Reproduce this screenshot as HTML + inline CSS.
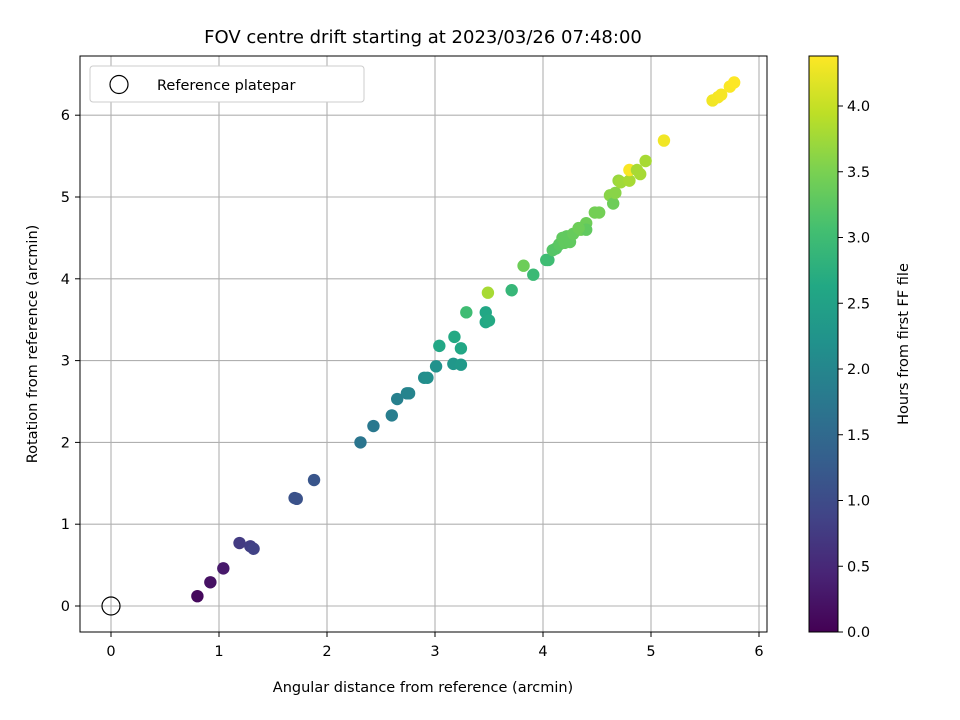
<!DOCTYPE html>
<html><head><meta charset="utf-8"><style>
body{margin:0;background:#fff;}
svg{display:block;font-family:"DejaVu Sans","Liberation Sans",sans-serif;}
</style></head><body>
<svg id="chart" width="960" height="720" viewBox="0 0 960 720">
<defs>
<linearGradient id="vir" x1="0" y1="1" x2="0" y2="0">
<stop offset="0" stop-color="#440154"/><stop offset="0.1" stop-color="#482475"/><stop offset="0.2" stop-color="#414487"/><stop offset="0.3" stop-color="#355f8d"/><stop offset="0.4" stop-color="#2a788e"/><stop offset="0.5" stop-color="#21918c"/><stop offset="0.6" stop-color="#22a884"/><stop offset="0.7" stop-color="#44bf70"/><stop offset="0.8" stop-color="#7ad151"/><stop offset="0.9" stop-color="#bddf26"/><stop offset="1" stop-color="#fde725"/>
</linearGradient>
</defs>
<rect x="0" y="0" width="960" height="720" fill="#fff"/>
<text x="423" y="43" font-size="18" text-anchor="middle">FOV centre drift starting at 2023/03/26 07:48:00</text>
<g id="grid"></g>
<g id="points"></g>
<rect x="80" y="56" width="687" height="576" fill="none" stroke="#000" stroke-width="1"/>
<g id="ticks" font-size="14.5"></g>
<text x="423" y="692" font-size="14.5" text-anchor="middle">Angular distance from reference (arcmin)</text>
<text transform="translate(37,344) rotate(-90)" font-size="14.5" text-anchor="middle">Rotation from reference (arcmin)</text>
<g>
<rect x="90" y="66" width="274" height="36" rx="3" fill="#fff" stroke="#ccc"/>
<circle cx="119" cy="84.5" r="9" fill="none" stroke="#000" stroke-width="1.2"/>
<text x="157" y="90" font-size="14.5">Reference platepar</text>
</g>
<rect x="809" y="56" width="29" height="576" fill="url(#vir)" stroke="#000" stroke-width="1"/>
<g id="cbticks" font-size="14.5"></g>
<text transform="translate(908,344) rotate(-90)" font-size="14.5" text-anchor="middle">Hours from first FF file</text>
</svg>
<script>
const xs=[0.80,0.92,1.04,1.19,1.29,1.32,1.70,1.72,1.88,2.31,2.43,2.60,2.65,2.74,2.76,2.90,2.93,3.01,3.04,3.18,3.17,3.24,3.24,3.29,3.47,3.47,3.50,3.49,3.71,3.82,3.91,4.03,4.05,4.09,4.12,4.15,4.18,4.20,4.22,4.25,4.28,4.35,4.40,4.40,4.33,4.48,4.52,4.62,4.65,4.67,4.70,4.72,4.80,4.80,4.87,4.90,4.95,5.12,5.57,5.62,5.65,5.73,5.77];
const ys=[0.12,0.29,0.46,0.77,0.73,0.70,1.32,1.31,1.54,2.00,2.20,2.33,2.53,2.60,2.60,2.79,2.79,2.93,3.18,3.29,2.96,2.95,3.15,3.59,3.47,3.59,3.49,3.83,3.86,4.16,4.05,4.23,4.23,4.35,4.37,4.42,4.50,4.44,4.52,4.45,4.55,4.60,4.68,4.60,4.62,4.81,4.81,5.02,4.92,5.05,5.20,5.18,5.20,5.33,5.33,5.28,5.44,5.69,6.18,6.22,6.25,6.35,6.40];
const hours=[0.1,0.2,0.3,0.75,0.8,0.85,1.1,1.1,1.15,1.7,1.75,1.85,1.9,1.95,1.97,2.1,2.15,2.2,2.6,2.65,2.3,2.35,2.6,3.0,2.6,2.6,2.65,3.8,2.9,3.4,2.95,3.0,3.0,3.2,3.2,3.25,3.3,3.3,3.3,3.3,3.35,3.4,3.4,3.3,3.4,3.45,3.45,3.6,3.4,3.6,3.7,3.75,3.8,4.35,3.8,3.8,3.8,4.3,4.3,4.32,4.33,4.36,4.38];
const xTicks=[0,1,2,3,4,5,6];
const yTicks=[0,1,2,3,4,5,6];
const cTicks=[0.0,0.5,1.0,1.5,2.0,2.5,3.0,3.5,4.0];
const NS="http://www.w3.org/2000/svg";
const X=v=>111+108*v, Y=v=>606-81.8*v, C=v=>632-131.5*v, CMAX=4.38;
const vir=["#440154","#482475","#414487","#355f8d","#2a788e","#21918c","#22a884","#44bf70","#7ad151","#bddf26","#fde725"];
function hex(h){return [1,3,5].map(i=>parseInt(h.substr(i,2),16));}
function cmap(t){t=Math.max(0,Math.min(1,t))*10;const i=Math.min(9,Math.floor(t)),f=t-i;const a=hex(vir[i]),b=hex(vir[i+1]);return "rgb("+a.map((v,k)=>Math.round(v+(b[k]-v)*f)).join(",")+")";}
function mk(tag,attrs,parent){const e=document.createElementNS(NS,tag);for(const k in attrs)e.setAttribute(k,attrs[k]);parent.appendChild(e);return e;}
const grid=document.getElementById('grid'),ticks=document.getElementById('ticks'),pts=document.getElementById('points'),cb=document.getElementById('cbticks');
xTicks.forEach(v=>{
 const l=mk('line',{x1:X(v),x2:X(v),y1:56,y2:632,stroke:'#b0b0b0','stroke-width':1.1},grid);
 
 
 mk('line',{x1:X(v),x2:X(v),y1:632,y2:637,stroke:'#000'},ticks);
 const t=mk('text',{x:X(v),y:656,'text-anchor':'middle'},ticks);t.textContent=v;
 
 
});
yTicks.forEach(v=>{
 const l=mk('line',{x1:80,x2:767,y1:Y(v),y2:Y(v),stroke:'#b0b0b0','stroke-width':1.1},grid);
 
 
 mk('line',{x1:75,x2:80,y1:Y(v),y2:Y(v),stroke:'#000'},ticks);
 const t=mk('text',{x:70,y:Y(v)+5,'text-anchor':'end'},ticks);t.textContent=v;
 
 
});
xs.forEach((x,i)=>{
 const c=mk('circle',{cx:X(x),cy:Y(ys[i]),r:6.2,fill:cmap(hours[i]/CMAX)},pts);
 
 
});
const ref=mk('circle',{cx:X(0),cy:Y(0),r:9,fill:'none',stroke:'#000','stroke-width':1.2},pts);


cTicks.forEach(v=>{
 mk('line',{x1:838,x2:843,y1:C(v),y2:C(v),stroke:'#000'},cb);
 const t=mk('text',{x:847,y:C(v)+5},cb);t.textContent=v.toFixed(1);
 
 
});
</script>
</body></html>
